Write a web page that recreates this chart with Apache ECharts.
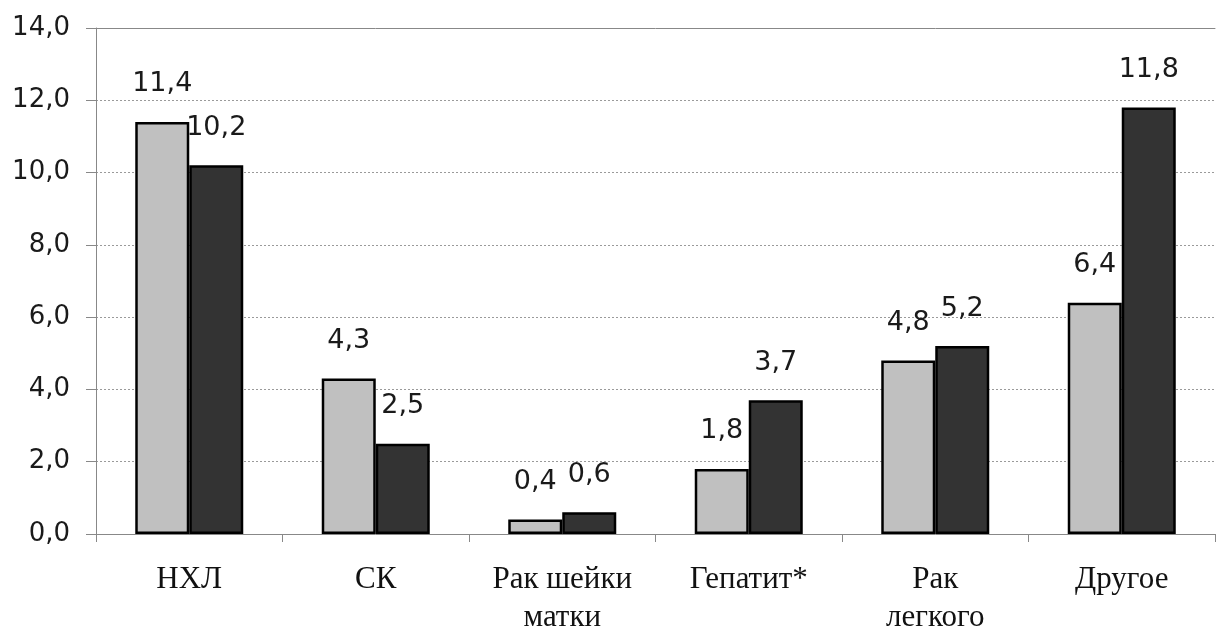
<!DOCTYPE html>
<html>
<head>
<meta charset="utf-8">
<script src="https://cdn.jsdelivr.net/npm/echarts@6/dist/echarts.min.js"></script>
<style>
html,body{margin:0;padding:0;background:#fff;}
#chart{width:1219px;height:626px;}
</style>
</head>
<body>
<div id="chart"></div>
<script>
var categories = ['НХЛ', 'СК', 'Рак шейки\nматки', 'Гепатит*', 'Рак\nлегкого', 'Другое'];
var seriesLight = [11.4, 4.3, 0.4, 1.8, 4.8, 6.4];
var seriesDark = [10.2, 2.5, 0.6, 3.7, 5.2, 11.8];
var yTicks = { min: 0, max: 14, interval: 2 };

function fmt(v) { return Number(v).toFixed(1).replace('.', ','); }

var labelStyle = {
  show: true,
  position: 'top',
  distance: 24,
  fontFamily: 'DejaVu Sans, Arial, sans-serif',
  fontSize: 27,
  color: '#1a1a1a',
  formatter: function (p) { return fmt(p.value); }
};

var chart = echarts.init(document.getElementById('chart'), null, { renderer: 'canvas' });
chart.setOption({
  animation: false,
  backgroundColor: '#ffffff',
  grid: { left: 96, right: 4, top: 28, bottom: 92, containLabel: false, outerBoundsMode: 'none' },
  xAxis: [{
    type: 'category',
    data: categories,
    axisLine: { show: true, lineStyle: { color: '#888888', width: 1 } },
    axisTick: { show: true, length: 8, lineStyle: { color: '#888888' } },
    axisLabel: {
      fontFamily: 'Liberation Serif, Times New Roman, serif',
      fontSize: 31,
      lineHeight: 38,
      color: '#111111',
      margin: 27,
      interval: 0
    }
  }, {
    type: 'category',
    data: categories,
    position: 'top',
    axisLine: { show: true, lineStyle: { color: '#888888', width: 1 } },
    axisTick: { show: false },
    axisLabel: { show: false }
  }],
  yAxis: {
    type: 'value',
    min: yTicks.min,
    max: yTicks.max,
    interval: yTicks.interval,
    axisLine: { show: true, lineStyle: { color: '#888888', width: 1 } },
    axisTick: { show: true, length: 10, lineStyle: { color: '#888888' } },
    axisLabel: {
      fontFamily: 'DejaVu Sans, Arial, sans-serif',
      fontSize: 26,
      color: '#1a1a1a',
      margin: 26,
      formatter: fmt
    },
    splitLine: { show: true, lineStyle: { color: '#9a9a9a', type: [2, 2], width: 1 } }
  },
  series: [{
    type: 'bar',
    data: seriesLight,
    barWidth: 54,
    barGap: '0%',
    itemStyle: { color: '#c0c0c0', borderColor: '#000000', borderWidth: 2.5 },
    label: labelStyle
  }, {
    type: 'bar',
    data: seriesDark,
    barWidth: 54,
    barGap: '0%',
    itemStyle: { color: '#333333', borderColor: '#000000', borderWidth: 2.5 },
    label: labelStyle
  }]
});
</script>
</body>
</html>
